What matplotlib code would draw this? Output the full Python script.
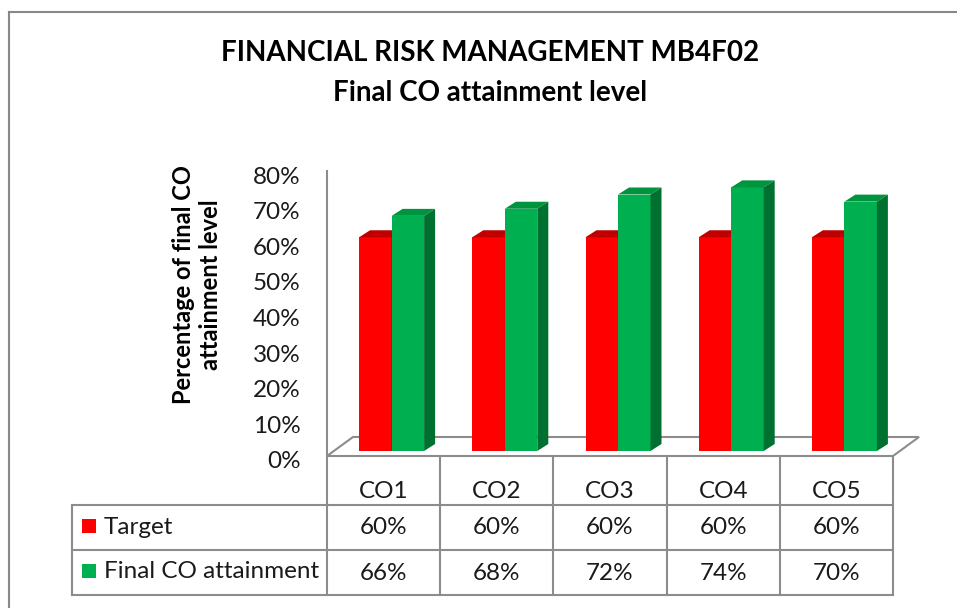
import numpy as np
import matplotlib.pyplot as plt
import matplotlib.transforms as mtransforms
from matplotlib.patches import Polygon, Rectangle
from matplotlib.lines import Line2D

plt.rcParams["font.family"] = ["Lato", "DejaVu Sans"]

categories = ["CO1", "CO2", "CO3", "CO4", "CO5"]
target = [60, 60, 60, 60, 60]
final_co = [66, 68, 72, 74, 70]
series_names = ["Target", "Final CO attainment"]
yticks = [0, 10, 20, 30, 40, 50, 60, 70, 80]

W, H = 957, 608
fig = plt.figure(figsize=(W / 100, H / 100), dpi=100)


def fx(px):
    return px / W


def fy(py):
    return 1 - py / H


GRAY = "#8c8c8c"
TXT = "#1a1a1a"
FS = 17.5

# plot area (pixels): floor front edge y=456, 80% at y=171
ax_l, ax_r, ax_b, ax_t = 327, 893, 456, 171
ax = fig.add_axes([fx(ax_l), fy(ax_b), fx(ax_r - ax_l), (ax_b - ax_t) / H])
x = np.arange(len(categories))
ax.set_xlim(-0.5, len(categories) - 0.5)
ax.set_ylim(0, 80)
ppx = (ax_r - ax_l) / len(categories)
ppy = (ax_b - ax_t) / 80

# 3d-ish geometry in data units
bw = 32.5 / ppx
sx, sy = 8 / ppx, 5 / ppy
ddx, ddy = 11 / ppx, 7 / ppy
fdx, fdy = 26 / ppx, 19 / ppy

# floor
ax.add_patch(Polygon([(-0.5, 0), (4.5, 0), (4.5 + fdx, fdy), (-0.5 + fdx, fdy)],
                     closed=True, facecolor="white", edgecolor=GRAY, lw=1.5,
                     zorder=1, clip_on=False))

series = [
    (target, -bw, "#ff0000", "#c00000", "#a00000", 3),
    (final_co, 0, "#00b050", "#00943f", "#007030", 4),
]
for vals, shift, c_front, c_top, c_side, z in series:
    lefts = x + sx + shift
    ax.bar(lefts, vals, width=bw, bottom=sy, align="edge", color=c_front,
           zorder=z, clip_on=False)
    for x0, v in zip(lefts, vals):
        x1 = x0 + bw
        top = sy + v
        ax.add_patch(Polygon([(x0, top), (x1, top), (x1 + ddx, top + ddy), (x0 + ddx, top + ddy)],
                             closed=True, facecolor=c_top, edgecolor="none", zorder=z, clip_on=False))
        ax.add_patch(Polygon([(x1, sy), (x1 + ddx, sy + ddy), (x1 + ddx, top + ddy), (x1, top)],
                             closed=True, facecolor=c_side, edgecolor="none", zorder=z, clip_on=False))

for s in ["top", "right", "bottom"]:
    ax.spines[s].set_visible(False)
ax.spines["left"].set_color(GRAY)
ax.spines["left"].set_linewidth(1.5)
ax.set_xticks([])
ax.set_yticks(yticks)
ax.set_yticklabels([f"{v}%" for v in yticks])
ax.tick_params(axis="y", length=0, pad=19, labelsize=FS, labelcolor=TXT)
offset = mtransforms.ScaledTranslation(0, -4 / 100, fig.dpi_scale_trans)
for lab in ax.get_yticklabels():
    lab.set_transform(lab.get_transform() + offset)
ax.patch.set_visible(False)

# data table
col_edges = [ax_l + i * ppx for i in range(len(categories) + 1)]
row_y = [456, 505, 550, 595]
tab_left = 72
for yy in row_y[1:]:
    fig.add_artist(Line2D([fx(tab_left), fx(ax_r)], [fy(yy), fy(yy)], color=GRAY, lw=1.5))
for xx in col_edges:
    fig.add_artist(Line2D([fx(xx), fx(xx)], [fy(456), fy(595)], color=GRAY, lw=1.5))
fig.add_artist(Line2D([fx(tab_left), fx(tab_left)], [fy(505), fy(595)], color=GRAY, lw=1.5))

for i, cat in enumerate(categories):
    cx = (col_edges[i] + col_edges[i + 1]) / 2
    fig.text(fx(cx), fy(492), cat, ha="center", va="center", fontsize=FS, color=TXT)
    fig.text(fx(cx), fy(528), f"{target[i]}%", ha="center", va="center", fontsize=FS, color=TXT)
    fig.text(fx(cx), fy(573), f"{final_co[i]}%", ha="center", va="center", fontsize=FS, color=TXT)

for name, c, yy in [(series_names[0], "#ff0000", 526), (series_names[1], "#00b050", 571)]:
    fig.add_artist(Rectangle((fx(82), fy(yy + 7)), fx(14), 14 / H, facecolor=c, edgecolor="none"))
    fig.text(fx(104), fy(yy + 1), name, ha="left", va="center", fontsize=FS, color=TXT)

# axis title and chart title
fig.text(fx(197), fy(285), "Percentage of final CO\nattainment level", rotation=90,
         ha="center", va="center", fontsize=17, fontweight="bold", linespacing=1.25)
fig.text(fx(490), fy(53), "FINANCIAL RISK MANAGEMENT MB4F02", ha="center", va="center",
         fontsize=20, fontweight="bold")
fig.text(fx(490), fy(93), "Final CO attainment level", ha="center", va="center",
         fontsize=20, fontweight="bold")

# outer chart border
fig.add_artist(Line2D([fx(9), fx(9)], [fy(12), fy(H + 5)], color="#888888", lw=1.5))
fig.add_artist(Line2D([fx(9), fx(W + 5)], [fy(12), fy(12)], color="#888888", lw=1.5))

fig.savefig("out.png", dpi=100)
